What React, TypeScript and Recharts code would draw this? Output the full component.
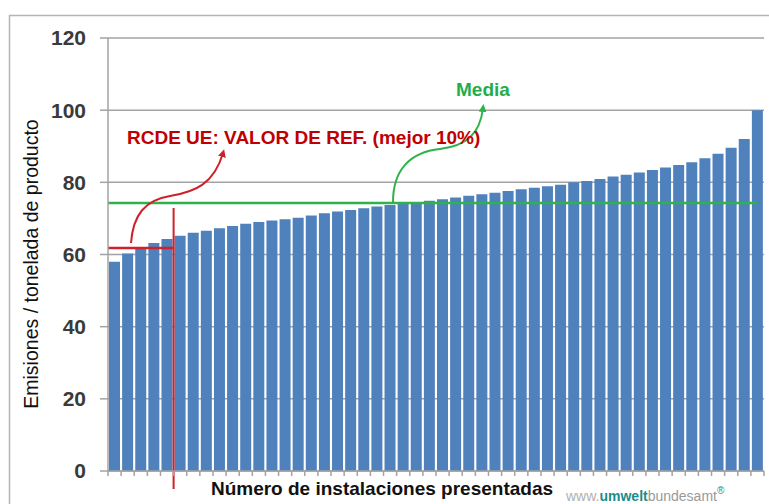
import { Bar, BarChart, CartesianGrid, ReferenceLine, XAxis, YAxis } from "recharts";

// installations ordered from lowest to highest emissions
const installations = [
  1, 2, 3, 4, 5, 6, 7, 8, 9, 10, 11, 12, 13, 14, 15, 16, 17, 18, 19, 20, 21, 22, 23, 24, 25,
  26, 27, 28, 29, 30, 31, 32, 33, 34, 35, 36, 37, 38, 39, 40, 41, 42, 43, 44, 45, 46, 47, 48, 49, 50,
];
const emissions = [
  58, 60.3, 61.5, 63.2, 64.3, 65.2, 66, 66.6, 67.3, 67.9, 68.5, 69, 69.4, 69.8, 70.2, 70.8, 71.4,
  71.9, 72.3, 72.8, 73.3, 73.7, 74.2, 74.5, 74.9, 75.3, 75.8, 76.3, 76.7, 77.1, 77.6, 78.1, 78.5,
  78.9, 79.3, 80, 80.4, 80.9, 81.6, 82.1, 82.7, 83.4, 84.1, 84.8, 85.6, 86.7, 87.9, 89.6, 92, 100,
];
const yTicks = [0, 20, 40, 60, 80, 100, 120];

const meanValue = 74.3;
const benchmarkValue = 61.8;
const benchmarkCount = 5; // best 10% of 50

const yAxisTitle = "Emisiones / tonelada de producto";
const xAxisTitle = "Número de instalaciones presentadas";
const benchmarkLabel = "RCDE UE: VALOR DE REF. (mejor 10%)";
const meanLabel = "Media";

const data = installations.map((n, i) => ({ n, value: emissions[i] }));
const xTicks = [0, ...installations].map((n) => n + 0.5);

const FONT = "'Liberation Sans', Arial, sans-serif";
const RED = "#d0212a";
const GREEN = "#2fb24c";
const GRID = "#a3a3a3";

// x ticks sit between bars, no labels, just the little marks
function BlankTick() {
  return <g />;
}

export default function App() {
  return (
    <div style={{ position: "absolute", left: 0, top: 0, width: 769, height: 504, background: "#fff", fontFamily: FONT }}>
      <BarChart width={769} height={504} data={data} margin={{ top: 38, right: 5, bottom: 0, left: 0 }}>
        <CartesianGrid stroke={GRID} strokeWidth={1.5} vertical={false} />
        <XAxis
          dataKey="n"
          type="number"
          domain={[0.5, installations.length + 0.5]}
          ticks={xTicks}
          interval={0}
          height={33}
          tick={<BlankTick />}
          tickSize={5}
          tickLine={{ stroke: GRID, strokeWidth: 1.5 }}
          axisLine={{ stroke: GRID, strokeWidth: 1.5 }}
        />
        <YAxis
          domain={[0, 120]}
          ticks={yTicks}
          width={108}
          tickSize={8}
          tickMargin={14}
          tickLine={{ stroke: GRID, strokeWidth: 1.5 }}
          axisLine={{ stroke: GRID, strokeWidth: 1.5 }}
          tick={{ fontSize: 21, fontWeight: 700, fill: "#3a3a3a", fontFamily: FONT }}
        />
        <Bar dataKey="value" fill="#4f81bd" barSize={11} isAnimationActive={false} />
        <ReferenceLine
          segment={[
            { x: 0.5, y: meanValue },
            { x: installations.length, y: meanValue },
          ]}
          stroke={GREEN}
          strokeWidth={2.5}
        />
        <ReferenceLine
          segment={[
            { x: 0.5, y: benchmarkValue },
            { x: benchmarkCount + 0.5, y: benchmarkValue },
          ]}
          stroke={RED}
          strokeWidth={2.5}
        />
        <ReferenceLine
          segment={[
            { x: benchmarkCount + 0.5, y: 72.9 },
            { x: benchmarkCount + 0.5, y: -5 },
          ]}
          stroke={RED}
          strokeWidth={2}
          ifOverflow="visible"
        />
      </BarChart>

      <svg
        width={769}
        height={504}
        style={{ position: "absolute", left: 0, top: 0, pointerEvents: "none", fontFamily: FONT }}
      >
        <defs>
          <marker id="redHead" viewBox="0 0 10 10" refX="5" refY="5" markerWidth="4" markerHeight="4" orient="auto">
            <path d="M0,0 L10,5 L0,10 z" fill={RED} />
          </marker>
          <marker id="greenHead" viewBox="0 0 10 10" refX="5" refY="5" markerWidth="4" markerHeight="4" orient="auto">
            <path d="M0,0 L10,5 L0,10 z" fill={GREEN} />
          </marker>
        </defs>
        <rect x={9.5} y={15.5} width={800} height={600} fill="none" stroke="#b5b5b5" strokeWidth={1.5} />

        <path
          d="M131,243 C133,215 145,200 170,196 C195,192 214,184 223,153"
          fill="none"
          stroke={RED}
          strokeWidth={2}
          markerEnd="url(#redHead)"
        />
        <path
          d="M393,202 C393,170 410,152 440,149 C465,146 480,135 483,108"
          fill="none"
          stroke={GREEN}
          strokeWidth={2}
          markerEnd="url(#greenHead)"
        />

        <text x={127} y={144} fill="#c00000" fontSize={19} fontWeight={700}>
          {benchmarkLabel}
        </text>
        <text x={456} y={96} fill="#1fae4b" fontSize={19} fontWeight={700}>
          {meanLabel}
        </text>

        <text
          x={38}
          y={264}
          transform="rotate(-90, 38, 264)"
          textAnchor="middle"
          fontSize={19.5}
          fill="#111"
        >
          {yAxisTitle}
        </text>
        <text x={382} y={495} textAnchor="middle" fontSize={19} fontWeight={700} fill="#111">
          {xAxisTitle}
        </text>

        <text x={566} y={501} fontSize={14}>
          <tspan fill="#b0b0b0">www.</tspan>
          <tspan fill="#1c8c8c" fontWeight={700}>umwelt</tspan>
          <tspan fill="#9a9a9a">bundesamt</tspan>
          <tspan fill="#1c8c8c" fontSize={10} dy={-7}>®</tspan>
        </text>
      </svg>
    </div>
  );
}
